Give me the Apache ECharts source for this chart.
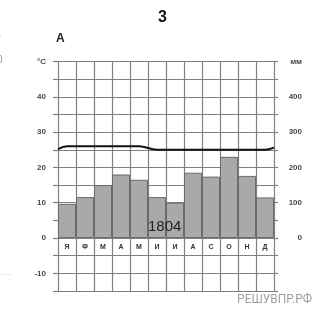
<!DOCTYPE html>
<html>
<head>
<meta charset="utf-8">
<script src="https://cdn.jsdelivr.net/npm/echarts@6/dist/echarts.min.js"></script>
<style>
  html, body { margin: 0; padding: 0; background: #fff; }
  #chart { width: 331px; height: 312px; }
</style>
</head>
<body>
<div id="chart"></div>
<script>
// months (Russian initials) and climate values
const months = ['Я', 'Ф', 'М', 'А', 'М', 'И', 'И', 'А', 'С', 'О', 'Н', 'Д'];
const precip = [97, 116, 150, 180, 165, 116, 100, 185, 174, 230, 176, 115]; // mm
const temps = [26, 26, 26, 26, 26, 25, 25, 25, 25, 25, 25, 25];          // °C
const tempEdges = [25.2, 25.6]; // where the curve meets the left / right frame
const totalPrecip = '1804';

const gridColor = '#808080';
const labelFont = 'Liberation Sans';
const tempMin = -15, tempMax = 50;
const plotTop = 61.5, plotBottom = 21, plotHeight = 312 - plotTop - plotBottom;

// line goes edge to edge, so it sits on a hidden 0..12 value axis
const lineData = [[0, tempEdges[0]]];
temps.forEach(function (t, i) { lineData.push([i + 0.5, t]); });
lineData.push([12, tempEdges[1]]);

const chart = echarts.init(document.getElementById('chart'), null, { renderer: 'canvas' });

const option = {
  animation: false,
  grid: { left: 58, right: 57, top: plotTop, bottom: plotBottom },
  xAxis: [
    {
      type: 'category',
      data: months,
      boundaryGap: true,
      position: 'bottom',
      // month initials sit just under the 0 line
      offset: -plotHeight * (0 - tempMin) / (tempMax - tempMin),
      axisLine: { show: false, onZero: false },
      axisTick: { show: false },
      axisLabel: {
        margin: 6,
        fontSize: 7,
        fontWeight: 'bold',
        color: '#333',
        fontFamily: labelFont
      },
      splitLine: { show: true, interval: 0, lineStyle: { color: gridColor, width: 1.2 } }
    },
    { type: 'value', min: 0, max: 12, show: false, axisLine: { onZero: false } }
  ],
  yAxis: [
    {
      type: 'value',
      min: tempMin, max: tempMax, interval: 5,
      axisLine: { show: false, onZero: false },
      axisTick: { show: true, length: 5, lineStyle: { color: gridColor, width: 1.2 } },
      splitLine: { show: true, lineStyle: { color: gridColor, width: 1.2 } },
      axisLabel: {
        margin: 12,
        fontSize: 8,
        fontWeight: 'bold',
        color: '#4a4a4a',
        fontFamily: labelFont,
        formatter: function (v) {
          if (v === 50) return '°C';
          return v % 10 === 0 ? String(v) : '';
        }
      }
    },
    {
      type: 'value',
      position: 'right',
      min: -150, max: 500, interval: 50,
      axisLine: { show: false, onZero: false },
      axisTick: { show: true, length: 4, lineStyle: { color: gridColor, width: 1.2 } },
      splitLine: { show: false },
      axisLabel: {
        margin: 28,
        align: 'right',
        fontSize: 8,
        fontWeight: 'bold',
        color: '#4a4a4a',
        fontFamily: labelFont,
        formatter: function (v) {
          if (v === 500) return 'мм';
          return (v >= 0 && v % 100 === 0) ? String(v) : '';
        }
      }
    }
  ],
  series: [
    {
      type: 'bar',
      xAxisIndex: 0,
      yAxisIndex: 1,
      data: precip,
      barCategoryGap: '0%',
      itemStyle: { color: '#a9a9a9', borderColor: '#6a6a6a', borderWidth: 1 }
    },
    {
      type: 'line',
      xAxisIndex: 1,
      yAxisIndex: 0,
      data: lineData,
      smooth: 0.4,
      showSymbol: false,
      lineStyle: { color: '#111', width: 2 }
    }
  ],
  graphic: [
    { type: 'text', left: 158, top: 10, style: { text: '3', fontSize: 16, fontWeight: 'bold', fill: '#111', fontFamily: labelFont } },
    { type: 'text', left: 56, top: 33, style: { text: 'А', fontSize: 12, fontWeight: 'bold', fill: '#222', fontFamily: labelFont } },
    { type: 'text', left: 148, top: 219, z: 10, style: { text: totalPrecip, fontSize: 15, fill: '#222', fontFamily: labelFont } },
    { type: 'text', right: 19, top: 294, style: { text: 'РЕШУВПР.РФ', fontSize: 12, fill: '#a0a0a0', fontFamily: 'Roboto' } },
    // cut-off bits of the neighbouring picture at the left edge
    { type: 'text', left: -3, top: 55, style: { text: '0', fontSize: 10, fill: '#8a96a8', fontFamily: labelFont } },
    { type: 'text', left: -2, top: 35, style: { text: '/', fontSize: 9, fill: '#9aa4b4', fontFamily: labelFont } },
    { type: 'text', left: 0, top: 272, style: { text: '·····', fontSize: 7, fill: '#c8c8c8', fontFamily: labelFont } }
  ]
};

chart.setOption(option);
</script>
</body>
</html>
